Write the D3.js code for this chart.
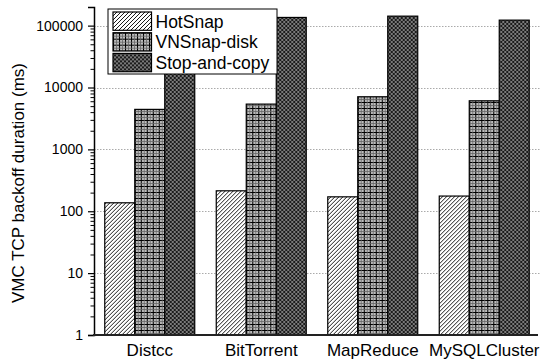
<!DOCTYPE html>
<html>
<head>
<meta charset="utf-8">
<script src="https://cdn.jsdelivr.net/npm/d3@7"></script>
<style>
  html, body { margin: 0; padding: 0; background: #fff; }
  svg { display: block; font-family: "Liberation Sans", Arial, Helvetica, sans-serif; }
</style>
</head>
<body>
<svg id="chart" width="543" height="362"></svg>
<script>
// Workloads on the x axis
const categories = ["Distcc", "BitTorrent", "MapReduce", "MySQLCluster"];
// Snapshot approaches (legend order)
const seriesNames = ["HotSnap", "VNSnap-disk", "Stop-and-copy"];
// TCP backoff duration per workload, in ms
const hotSnap = [137, 214, 171, 176];
const vnSnapDisk = [4430, 5390, 7080, 6100];
const stopAndCopy = [138000, 135600, 142300, 122700];
// Labelled decades on the log axis
const yTicks = [1, 10, 100, 1000, 10000, 100000];
const yLabel = "VMC TCP backoff duration (ms)";

const seriesValues = [hotSnap, vnSnapDisk, stopAndCopy];

const svg = d3.select("#chart");
const margin = { left: 94, right: 3, top: 7, bottom: 27 };
const W = 543, H = 362;
const plotBottom = H - margin.bottom;

const y = d3.scaleLog().domain([1, 200000]).range([plotBottom, margin.top]);
const x0 = d3.scaleBand().domain(categories).range([margin.left, W - margin.right])
  .paddingInner(0.193).paddingOuter(0.0965);
const x1 = d3.scaleBand().domain(seriesNames).range([0, x0.bandwidth()]);

// Fill patterns for the three series
const defs = svg.append("defs");

// diagonal hatch
const p0 = defs.append("pattern").attr("id", "pat0").attr("patternUnits", "userSpaceOnUse")
  .attr("width", 4).attr("height", 4);
p0.append("rect").attr("width", 4).attr("height", 4).attr("fill", "#fff");
p0.append("path").attr("d", "M-1,1 l2,-2 M0,4 l4,-4 M3,5 l2,-2")
  .attr("stroke", "#000").attr("stroke-width", 0.9);

// plaid grid
const p1 = defs.append("pattern").attr("id", "pat1").attr("patternUnits", "userSpaceOnUse")
  .attr("width", 6).attr("height", 6);
p1.append("rect").attr("width", 6).attr("height", 6).attr("fill", "#bdbdbd");
p1.append("path").attr("d", "M0,0.5 H6 M0.5,0 V6").attr("stroke", "#000").attr("stroke-width", 1.1);
p1.append("path").attr("d", "M0,3.5 H6 M3.5,0 V6").attr("stroke", "#666").attr("stroke-width", 0.8);

// cross hatch
const p2 = defs.append("pattern").attr("id", "pat2").attr("patternUnits", "userSpaceOnUse")
  .attr("width", 4).attr("height", 4);
p2.append("rect").attr("width", 4).attr("height", 4).attr("fill", "#7a7a7a");
p2.append("path").attr("d", "M0,0 L4,4 M4,0 L0,4 M-1,1 l2,-2 M3,5 l2,-2 M-1,3 l2,2 M3,-1 l2,2")
  .attr("stroke", "#111").attr("stroke-width", 0.9);

const fills = ["url(#pat0)", "url(#pat1)", "url(#pat2)"];

// dotted grid lines at each decade
svg.append("g").selectAll("line").data(yTicks.slice(1)).join("line")
  .attr("x1", margin.left).attr("x2", W - 3)
  .attr("y1", d => Math.round(y(d)) + 0.5).attr("y2", d => Math.round(y(d)) + 0.5)
  .attr("stroke", "#aaa").attr("stroke-width", 1).attr("stroke-dasharray", "1.5,1.5");

// bars
const rows = categories.map((c, i) => ({ cat: c, vals: seriesNames.map((s, j) => ({ s, j, v: seriesValues[j][i] })) }));
svg.append("g").selectAll("g").data(rows).join("g")
  .attr("transform", d => `translate(${x0(d.cat)},0)`)
  .selectAll("rect").data(d => d.vals).join("rect")
  .attr("x", d => x1(d.s))
  .attr("y", d => y(d.v))
  .attr("width", x1.bandwidth())
  .attr("height", d => plotBottom - y(d.v))
  .attr("fill", d => fills[d.j])
  .attr("stroke", "#000").attr("stroke-width", 1.2);

// left axis with major decades and minor ticks
const minor = [];
for (let e = 0; e <= 5; e++) for (let m = 2; m <= 9; m++) {
  const v = m * Math.pow(10, e);
  if (v <= 200000) minor.push(v);
}
const yAxisMinor = d3.axisLeft(y).tickValues(minor).tickSize(3.5).tickFormat("");
svg.append("g").attr("transform", `translate(${margin.left},0)`).call(yAxisMinor)
  .call(g => g.select(".domain").remove())
  .selectAll("line").attr("stroke", "#000").attr("stroke-width", 1);

const yAxis = d3.axisLeft(y).tickValues(yTicks).tickSize(6).tickPadding(5)
  .tickFormat(d3.format("d"));
svg.append("g").attr("transform", `translate(${margin.left},0)`).call(yAxis)
  .call(g => g.select(".domain").attr("stroke", "#000").attr("stroke-width", 1.5))
  .call(g => g.selectAll("line").attr("stroke", "#000").attr("stroke-width", 1.2))
  .call(g => g.selectAll("text").attr("font-size", 14).attr("fill", "#000")
    .attr("font-family", "Liberation Sans, Arial, sans-serif"));

// bottom axis: category names and base line
const xAxis = d3.axisBottom(x0).tickSize(0).tickPadding(9);
svg.append("g").attr("transform", `translate(0,${plotBottom})`).call(xAxis)
  .call(g => g.select(".domain").remove())
  .call(g => g.selectAll("text").attr("font-size", 17).attr("fill", "#000")
    .attr("font-family", "Liberation Sans, Arial, sans-serif"));
svg.append("line").attr("x1", margin.left - 1).attr("x2", W - 5)
  .attr("y1", plotBottom).attr("y2", plotBottom)
  .attr("stroke", "#222").attr("stroke-width", 2);

// y axis title
svg.append("text")
  .attr("transform", `translate(23.5,183) rotate(-90)`)
  .attr("text-anchor", "middle")
  .attr("font-size", 17)
  .attr("fill", "#000")
  .text(yLabel);

// legend
const lg = svg.append("g").attr("transform", "translate(108,9)");
lg.append("rect").attr("width", 169).attr("height", 65)
  .attr("fill", "#fff").attr("stroke", "#000").attr("stroke-width", 1);
const item = lg.selectAll("g.item").data(seriesNames).join("g").attr("class", "item")
  .attr("transform", (d, i) => `translate(5,${3 + i * 20.7})`);
item.append("rect").attr("width", 38.5).attr("height", 18.3)
  .attr("fill", (d, i) => fills[i]).attr("stroke", "#000").attr("stroke-width", 1.2);
item.append("text").attr("x", 42.5).attr("y", 15.5).attr("font-size", 17.5).attr("fill", "#000")
  .text(d => d);
</script>
</body>
</html>
